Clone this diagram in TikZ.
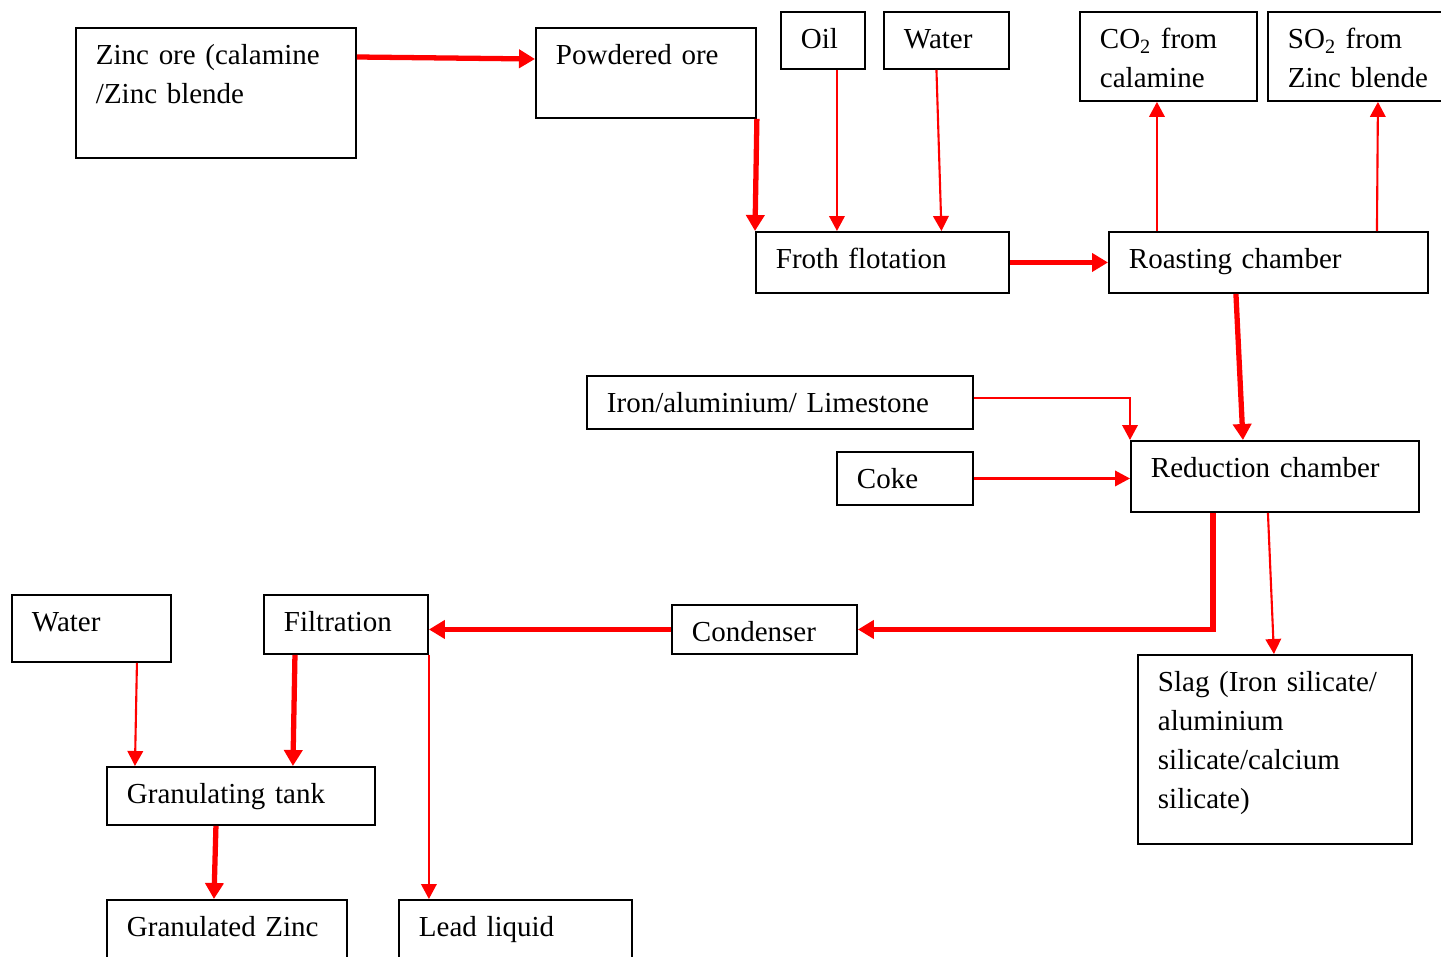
\documentclass[tikz,border=0pt]{standalone}
\usepackage{fontspec}
\setmainfont{Liberation Serif}
\usepackage{tikz}
\usetikzlibrary{
  arrows.meta,
  positioning,
  calc
}
\definecolor{FlowRed}{RGB}{255,0,0}
\definecolor{BoxBlack}{RGB}{0,0,0}
\tikzset{
  stagebox/.style={draw=BoxBlack,line width=1.1pt,anchor=north west,align=left,inner xsep=0.4cm,inner ysep=0pt,text height=0.74cm,font=\fontsize{16.5}{22.2}\selectfont},
  mainflow/.style={-{Triangle[length=0.32cm,width=0.36cm]},line width=3pt,draw=FlowRed},
  sideflow/.style={-{Triangle[length=0.3cm,width=0.31cm]},line width=1.2pt,draw=FlowRed}
}

\begin{document}
\begin{tikzpicture}[x=0.02cm,y=-0.02cm]
\useasboundingbox (0,0) rectangle (1441,957);

% Ore preparation.
\node[stagebox,text width=4.8cm,text depth=1.86cm] (zinc) at (75,27) {Zinc ore (calamine\\/Zinc blende};
\node[stagebox,text width=3.6cm,text depth=1.06cm] (powder) at (535,27) {Powdered ore};
\node[stagebox,text width=0.88cm,text depth=0.4cm] (oil) at (780,11) {Oil};
\node[stagebox,text width=1.7cm,text depth=0.4cm] (wtop) at (883,11) {Water};
\node[stagebox,text width=4.26cm,text depth=0.48cm] (froth) at (755,231) {Froth flotation};

% Roasting and its gases.
\node[stagebox,text width=5.58cm,text depth=0.48cm] (roast) at (1108,231) {Roasting chamber};
\node[stagebox,text width=2.74cm,text depth=1.04cm] (co2) at (1079,11) {CO\textsubscript{2} from\\calamine};
\node[stagebox,text width=2.68cm,text depth=1.04cm] (so2) at (1267,11) {SO\textsubscript{2} from\\Zinc~blende};

% Reduction.
\node[stagebox,text width=6.92cm,text depth=0.32cm] (iron) at (586,375) {Iron/aluminium/ Limestone};
\node[stagebox,text width=1.92cm,text depth=0.32cm] (coke) at (836,451) {Coke};
\node[stagebox,text width=4.96cm,text depth=0.68cm] (reduce) at (1130,440) {Reduction chamber};
\node[stagebox,text width=4.68cm,text depth=3.04cm] (slag) at (1137,654) {Slag (Iron silicate/\\aluminium\\silicate/calcium\\silicate)};

% Condensing and finishing.
\node[stagebox,text width=2.9cm,text depth=0.24cm] (cond) at (671,604) {Condenser};
\node[stagebox,text width=2.48cm,text depth=0.44cm] (filt) at (263,594) {Filtration};
\node[stagebox,text width=2.38cm,text depth=0.6cm] (wbot) at (11,594) {Water};
\node[stagebox,text width=4.56cm,text depth=0.42cm] (gtank) at (106,766) {Granulating tank};
\node[stagebox,text width=4cm,text depth=0.46cm] (gzinc) at (106,899) {Granulated Zinc};
\node[stagebox,text width=3.86cm,text depth=0.46cm] (lead) at (398,899) {Lead liquid};

% Main path of the ore.
\draw[mainflow] ([yshift=-0.6cm]zinc.north east) -- ([yshift=-0.64cm]powder.north west);
\draw[mainflow] (powder.south east) -- (froth.north west);
\draw[mainflow] (froth.east) -- (froth.east -| roast.west);
\draw[mainflow] ([xshift=-0.65cm]roast.south) -- ([xshift=-0.64cm]reduce.north);
\draw[mainflow] ([xshift=-1.24cm]reduce.south) |- (cond.east);
\draw[mainflow] (cond.west) -- (cond.west -| filt.east);
\draw[mainflow] ([xshift=-1.02cm]filt.south) -- ([xshift=1.04cm]gtank.north);
\draw[mainflow] ([xshift=-0.5cm]gtank.south) -- ([xshift=-0.26cm]gzinc.north);

% Inputs and by-products.
\draw[sideflow] ([xshift=0.28cm]oil.south) -- ([xshift=0.28cm]oil.south |- froth.north);
\draw[sideflow] ([xshift=-0.2cm]wtop.south) -- ([xshift=-0.1cm]wtop.south |- froth.north);
\draw[sideflow] ([xshift=-0.23cm]co2.south |- roast.north) -- ([xshift=-0.23cm]co2.south);
\draw[sideflow] ([xshift=0.44cm]so2.south |- roast.north) -- ([xshift=0.46cm]so2.south);
\draw[sideflow] ([yshift=0.09cm]iron.east) -| (reduce.north west);
\draw[sideflow] (coke.east) -- (coke.east -| reduce.west);
\draw[sideflow] ([xshift=-0.14cm]reduce.south) -- ([xshift=-0.02cm]slag.north);
\draw[sideflow] (filt.south east) -- (filt.south east |- lead.north);
\draw[sideflow] ([xshift=0.91cm]wbot.south) -- ([xshift=-2.12cm]gtank.north);
\end{tikzpicture}
\end{document}
